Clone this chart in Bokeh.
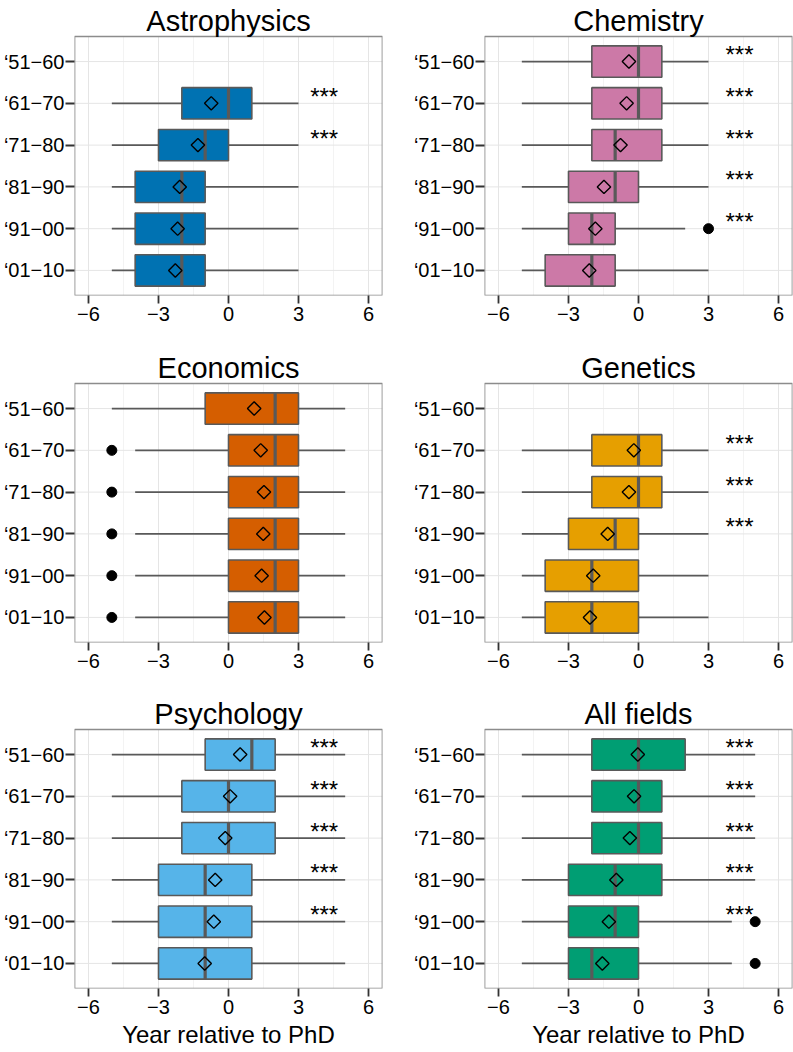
import math
from bokeh.plotting import figure
from bokeh.layouts import column, row
from bokeh.models import FixedTicker, Range1d
from bokeh.embed import file_html
from bokeh.resources import INLINE
from bokeh.core.properties import value

nan = float("nan")

DECADES = ["\u201851\u221260", "\u201861\u221270", "\u201871\u221280",
           "\u201881\u221290", "\u201891\u221200", "\u201801\u221210"]
FIELDS = ["Astrophysics", "Chemistry", "Economics", "Genetics", "Psychology", "All fields"]
COLORS = {"Astrophysics": "#0072B2", "Chemistry": "#CC79A7", "Economics": "#D55E00",
          "Genetics": "#E69F00", "Psychology": "#56B4E9", "All fields": "#009E73"}

WHISKER_LOW = {
    "Astrophysics": [nan, -5, -5, -5, -5, -5],
    "Chemistry":    [-5, -5, -5, -5, -5, -5],
    "Economics":    [-5, -4, -4, -4, -4, -4],
    "Genetics":     [nan, -5, -5, -5, -5, -5],
    "Psychology":   [-5, -5, -5, -5, -5, -5],
    "All fields":   [-5, -5, -5, -5, -5, -5],
}
Q1 = {
    "Astrophysics": [nan, -2, -3, -4, -4, -4],
    "Chemistry":    [-2, -2, -2, -3, -3, -4],
    "Economics":    [-1, 0, 0, 0, 0, 0],
    "Genetics":     [nan, -2, -2, -3, -4, -4],
    "Psychology":   [-1, -2, -2, -3, -3, -3],
    "All fields":   [-2, -2, -2, -3, -3, -3],
}
MEDIAN = {
    "Astrophysics": [nan, 0, -1, -2, -2, -2],
    "Chemistry":    [0, 0, -1, -1, -2, -2],
    "Economics":    [2, 2, 2, 2, 2, 2],
    "Genetics":     [nan, 0, 0, -1, -2, -2],
    "Psychology":   [1, 0, 0, -1, -1, -1],
    "All fields":   [0, 0, 0, -1, -1, -2],
}
Q3 = {
    "Astrophysics": [nan, 1, 0, -1, -1, -1],
    "Chemistry":    [1, 1, 1, 0, -1, -1],
    "Economics":    [3, 3, 3, 3, 3, 3],
    "Genetics":     [nan, 1, 1, 0, 0, 0],
    "Psychology":   [2, 2, 2, 1, 1, 1],
    "All fields":   [2, 1, 1, 1, 0, 0],
}
WHISKER_HIGH = {
    "Astrophysics": [nan, 3, 3, 3, 3, 3],
    "Chemistry":    [3, 3, 3, 3, 2, 3],
    "Economics":    [5, 5, 5, 5, 5, 5],
    "Genetics":     [nan, 3, 3, 3, 3, 3],
    "Psychology":   [5, 5, 5, 5, 5, 5],
    "All fields":   [5, 5, 5, 5, 4, 4],
}
MEAN = {
    "Astrophysics": [nan, -0.74, -1.31, -2.09, -2.18, -2.28],
    "Chemistry":    [-0.41, -0.51, -0.77, -1.48, -1.85, -2.11],
    "Economics":    [1.10, 1.38, 1.52, 1.49, 1.42, 1.54],
    "Genetics":     [nan, -0.20, -0.41, -1.32, -1.94, -2.08],
    "Psychology":   [0.50, 0.07, -0.14, -0.57, -0.63, -1.02],
    "All fields":   [-0.03, -0.19, -0.37, -0.95, -1.27, -1.55],
}
# outliers: (decade index, value)
OUTLIERS = {
    "Astrophysics": [],
    "Chemistry":    [(4, 3)],
    "Economics":    [(1, -5), (2, -5), (3, -5), (4, -5), (5, -5)],
    "Genetics":     [],
    "Psychology":   [],
    "All fields":   [(4, 5), (5, 5)],
}
STARS = {
    "Astrophysics": [0, 1, 1, 0, 0, 0],
    "Chemistry":    [1, 1, 1, 1, 1, 0],
    "Economics":    [0, 0, 0, 0, 0, 0],
    "Genetics":     [0, 1, 1, 1, 0, 0],
    "Psychology":   [1, 1, 1, 1, 1, 0],
    "All fields":   [1, 1, 1, 1, 1, 0],
}
STAR_X = {"Astrophysics": 4.1, "Chemistry": 4.33, "Economics": 4.1,
          "Genetics": 4.33, "Psychology": 4.1, "All fields": 4.33}
X_TICKS = [-6, -3, 0, 3, 6]
X_MINOR = [-4.5, -1.5, 1.5, 4.5]
X_LIM = (-6.6, 6.6)

FONT = "Liberation Sans"
LINE = "#595959"
GRID = "#E5E5E5"
GRID_MINOR = "#F3F3F3"
BORDER = "#8C8C8C"
BOX_H = 0.75
TITLE_SPACE = 36   # px above each panel reserved for its title
TITLE_GAP = 16     # px between title baseline and panel top


def make_panel(field, col, rowi):
    n = len(DECADES)
    ypos = [n - i for i in range(n)]
    y_lo, y_hi = 0.4, n + 0.6
    left = col == 0
    width = 398 if left else 395
    height, mb_bottom = [(347, 52), (346, 51), (359, 64)][rowi]
    panel_h = height - TITLE_SPACE - mb_bottom
    unit_px = panel_h / (y_hi - y_lo)
    y_top = y_hi + TITLE_SPACE / unit_px
    p = figure(width=width, height=height, output_backend="svg", toolbar_location=None,
               title=None,
               x_range=Range1d(*X_LIM), y_range=Range1d(y_lo, y_top),
               min_border_left=74 if left else 86, min_border_right=16 if left else 1,
               min_border_top=0, min_border_bottom=mb_bottom,
               background_fill_color="white", border_fill_color="white")
    p.outline_line_color = None
    p.xgrid.visible = False
    p.ygrid.visible = False

    # panel grid (kept inside the panel, below the title)
    p.segment(x0=X_MINOR, x1=X_MINOR, y0=[y_lo] * len(X_MINOR), y1=[y_hi] * len(X_MINOR),
              line_color=GRID_MINOR, line_width=1)
    p.segment(x0=X_TICKS, x1=X_TICKS, y0=[y_lo] * len(X_TICKS), y1=[y_hi] * len(X_TICKS),
              line_color=GRID, line_width=1)
    p.segment(x0=[X_LIM[0]] * n, x1=[X_LIM[1]] * n, y0=ypos, y1=ypos,
              line_color=GRID, line_width=1)

    c = COLORS[field]
    lo, q1, md, q3, hi, mn = (WHISKER_LOW[field], Q1[field], MEDIAN[field],
                              Q3[field], WHISKER_HIGH[field], MEAN[field])
    idx = [i for i in range(n) if not math.isnan(md[i])]
    ys = [ypos[i] for i in idx]
    # whiskers
    p.segment(x0=[lo[i] for i in idx], x1=[q1[i] for i in idx], y0=ys, y1=ys,
              line_color=LINE, line_width=1.8)
    p.segment(x0=[q3[i] for i in idx], x1=[hi[i] for i in idx], y0=ys, y1=ys,
              line_color=LINE, line_width=1.8)
    # boxes
    p.hbar(y=ys, left=[q1[i] for i in idx], right=[q3[i] for i in idx], height=BOX_H,
           fill_color=c, line_color=LINE, line_width=1.6)
    # medians
    p.segment(x0=[md[i] for i in idx], x1=[md[i] for i in idx],
              y0=[y - BOX_H / 2 for y in ys], y1=[y + BOX_H / 2 for y in ys],
              line_color=LINE, line_width=3.2)
    # means
    p.scatter(x=[mn[i] for i in idx], y=ys, marker="square", angle=math.pi / 4, size=9.5,
              fill_color=None, line_color="black", line_width=1.4)
    # outliers
    out = OUTLIERS[field]
    if out:
        p.scatter(x=[v for (_, v) in out], y=[ypos[i] for (i, _) in out], size=10,
                  fill_color="black", line_color="black")
    # significance stars
    st = [ypos[i] for i in range(n) if STARS[field][i]]
    if st:
        p.text(x=[STAR_X[field]] * len(st), y=st, text=["***"] * len(st),
               text_font=value(FONT), text_font_size="24px", text_align="center",
               text_baseline="alphabetic", y_offset=-7, text_color="black")

    # panel border
    p.quad(left=[X_LIM[0]], right=[X_LIM[1]], bottom=[y_lo], top=[y_hi],
           fill_color=None, line_color=BORDER, line_width=1.7)

    # panel title
    p.text(x=[sum(X_LIM) / 2], y=[y_hi + TITLE_GAP / unit_px], text=[field],
           text_align="center", text_baseline="alphabetic",
           text_font=value(FONT), text_font_size="29px", text_color="black")

    # axes
    p.xaxis.ticker = FixedTicker(ticks=X_TICKS, minor_ticks=X_MINOR)
    p.xaxis.major_label_overrides = {t: (("\u2212" + str(-t)) if t < 0 else str(t)) for t in X_TICKS}
    p.yaxis.ticker = FixedTicker(ticks=ypos)
    p.yaxis.major_label_overrides = {ypos[i]: DECADES[i] for i in range(n)}
    for ax in (p.xaxis[0], p.yaxis[0]):
        ax.axis_line_color = None
        ax.major_tick_line_color = "#333333"
        ax.major_tick_line_width = 1.8
        ax.major_tick_in = 0
        ax.minor_tick_line_color = None
        ax.major_label_text_font = FONT
        ax.major_label_text_font_size = "20px"
        ax.major_label_text_color = "black"
    p.xaxis.major_tick_out = 8
    p.yaxis.major_tick_out = 9
    p.xaxis.major_label_standoff = 3
    p.yaxis.major_label_standoff = 1
    if rowi == 2:
        p.xaxis.axis_label = "Year relative to PhD"
        p.xaxis.axis_label_text_font = FONT
        p.xaxis.axis_label_text_font_size = "24px"
        p.xaxis.axis_label_text_font_style = "normal"
        p.xaxis.axis_label_text_color = "black"
        p.xaxis.axis_label_standoff = 4
    return p


panels = [make_panel(f, k % 2, k // 2) for k, f in enumerate(FIELDS)]
layout = column(row(panels[0], panels[1]), row(panels[2], panels[3]), row(panels[4], panels[5]))

open("out.html", "w").write(file_html(layout, INLINE))
